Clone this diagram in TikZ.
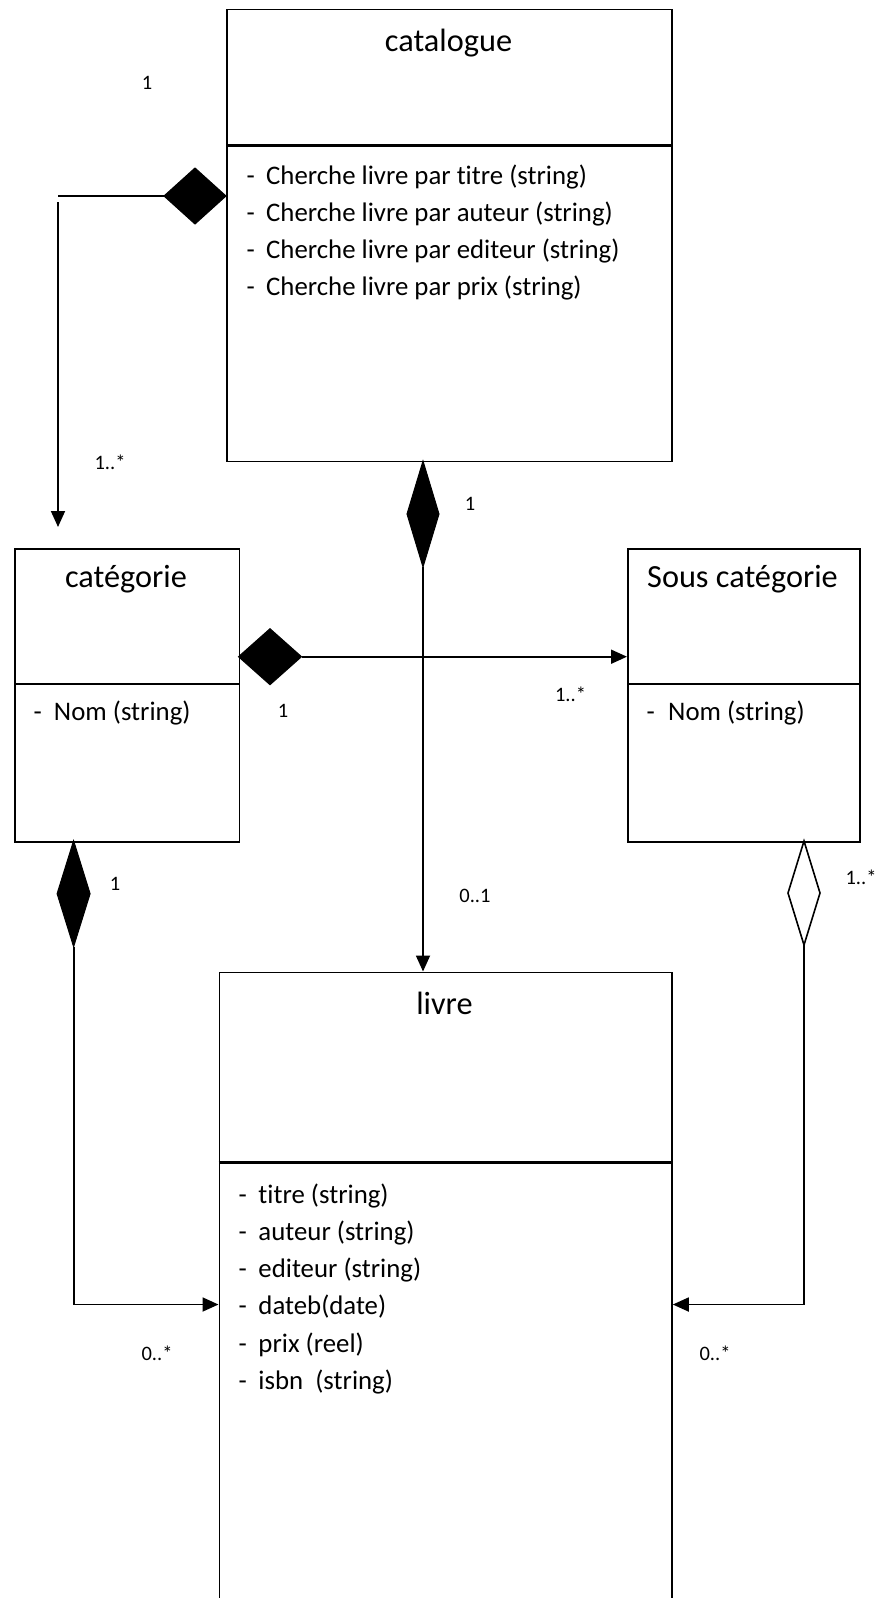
\documentclass[tikz,border=0pt]{standalone}
\usepackage{fontspec}
\setmainfont[Ligatures=NoCommon]{Carlito}
\usetikzlibrary{arrows.meta,shapes.geometric,calc}

\begin{document}
\begin{tikzpicture}[x=1pt,y=-1pt,
  classbox/.style={draw, line width=1.8pt, rectangle, inner sep=0pt, anchor=north west},
  divider/.style={line width=1.8pt},
  thickdivider/.style={line width=3.4pt},
  classname/.style={font=\fontsize{32.3}{36}\selectfont, anchor=base, inner sep=0pt},
  member/.style={font=\fontsize{26.8}{30}\selectfont, anchor=base west, inner sep=0pt},
  mult/.style={font=\fontsize{20.5}{24}\selectfont, anchor=base, inner sep=0pt},
  link/.style={line width=1.8pt},
  arrowlink/.style={link, -{Triangle[length=16pt,width=14pt]}},
  composite/.style={shape=diamond, draw, fill=black, line width=1pt, inner sep=0pt, outer sep=0pt},
  aggregate/.style={shape=diamond, draw, fill=white, line width=1.6pt, inner sep=0pt, outer sep=0pt}
]
\path[use as bounding box] (0,0) rectangle (888,1598);
\clip (0,0) rectangle (888,1598);

% ---------- classes ----------
\node[classbox, minimum width=445pt, minimum height=452pt] (catalogue) at (226,8.6) {};
\draw[thickdivider] (226,145.7) -- (671,145.7);
\node[classname] (catalogue-name) at (448.5,51) {catalogue};
\node[member] (m1) at (246.5,184) {\makebox[19.5pt][l]{-}Cherche livre par titre (string)};
\node[member] (m2) at (246.5,221.3) {\makebox[19.5pt][l]{-}Cherche livre par auteur (string)};
\node[member] (m3) at (246.5,258.6) {\makebox[19.5pt][l]{-}Cherche livre par editeur (string)};
\node[member] (m4) at (246.5,295.9) {\makebox[19.5pt][l]{-}Cherche livre par prix (string)};

\node[classbox, minimum width=224.5pt, minimum height=293pt] (categorie) at (14,547.7) {};
\draw[divider] (14,684) -- (238.5,684);
\node[classname] (categorie-name) at (126,587.5) {catégorie};
\node[member] (m5) at (33.5,720) {\makebox[20.3pt][l]{-}Nom (string)};

\node[classbox, minimum width=232pt, minimum height=293pt] (souscat) at (627,547.7) {};
\draw[divider] (627,684) -- (859,684);
\node[classname] (souscat-name) at (742.5,587.5) {Sous catégorie};
\node[member] (m6) at (646.5,720) {\makebox[21.5pt][l]{-}Nom (string)};

\node[classbox, minimum width=452.5pt, minimum height=660pt] (livre) at (218.5,971.5) {};
\draw[thickdivider] (218.5,1162.2) -- (671,1162.2);
\node[classname] (livre-name) at (444.5,1014.5) {livre};
\node[member] (l1) at (238.5,1203)    {\makebox[19.8pt][l]{-}titre (string)};
\node[member] (l2) at (238.5,1240.3)  {\makebox[19.8pt][l]{-}auteur (string)};
\node[member] (l3) at (238.5,1277.6)  {\makebox[19.8pt][l]{-}editeur (string)};
\node[member] (l4) at (238.5,1314.9)  {\makebox[19.8pt][l]{-}dateb(date)};
\node[member] (l5) at (238.5,1352.2)  {\makebox[19.8pt][l]{-}prix (reel)};
\node[member] (l6) at (238.5,1389.5)  {\makebox[19.8pt][l]{-}isbn\ \ (string)};

% ---------- association ends ----------
\node[composite, minimum width=62pt, minimum height=56pt] (d1) at (195,196) {};
\node[composite, minimum width=32pt, minimum height=106pt] (d2) at (423,514) {};
\node[composite, minimum width=63pt, minimum height=56pt] (d3) at (270,656.7) {};
\node[composite, minimum width=33pt, minimum height=106pt] (d4) at (73.6,893.7) {};
\node[aggregate, minimum width=32pt, minimum height=104pt] (d5) at (804,893) {};

\coordinate (c1a) at (58,196);
\coordinate (c1b) at (58,202);
\coordinate (c1c) at (58,527);

% ---------- connectors ----------
\draw[link] (d1.west) -- (c1a);
\draw[arrowlink] (c1b) -- (c1c);
\draw[arrowlink] (d2.south) -- (d2.south |- livre.north);
\draw[arrowlink] (d3.east) -- (d3.east -| souscat.west);
\draw[arrowlink] (d4.south) |- ($(livre.north west)+(0,333)$);
\draw[arrowlink] (d5.south) |- ($(livre.north east)+(0,333)$);

% ---------- multiplicities ----------
\node[mult] (n1) at (147,89) {1};
\node[mult] (n2) at (110,469) {1..*};
\node[mult] (n3) at (470,510) {1};
\node[mult] (n4) at (283,717) {1};
\node[mult] (n5) at (570.5,701) {1..*};
\node[mult] (n6) at (115,890) {1};
\node[mult] (n7) at (475,902) {0..1};
\node[mult] (n8) at (861,884) {1..*};
\node[mult] (n9) at (157,1360) {0..*};
\node[mult] (n10) at (715,1360) {0..*};
\end{tikzpicture}
\end{document}
